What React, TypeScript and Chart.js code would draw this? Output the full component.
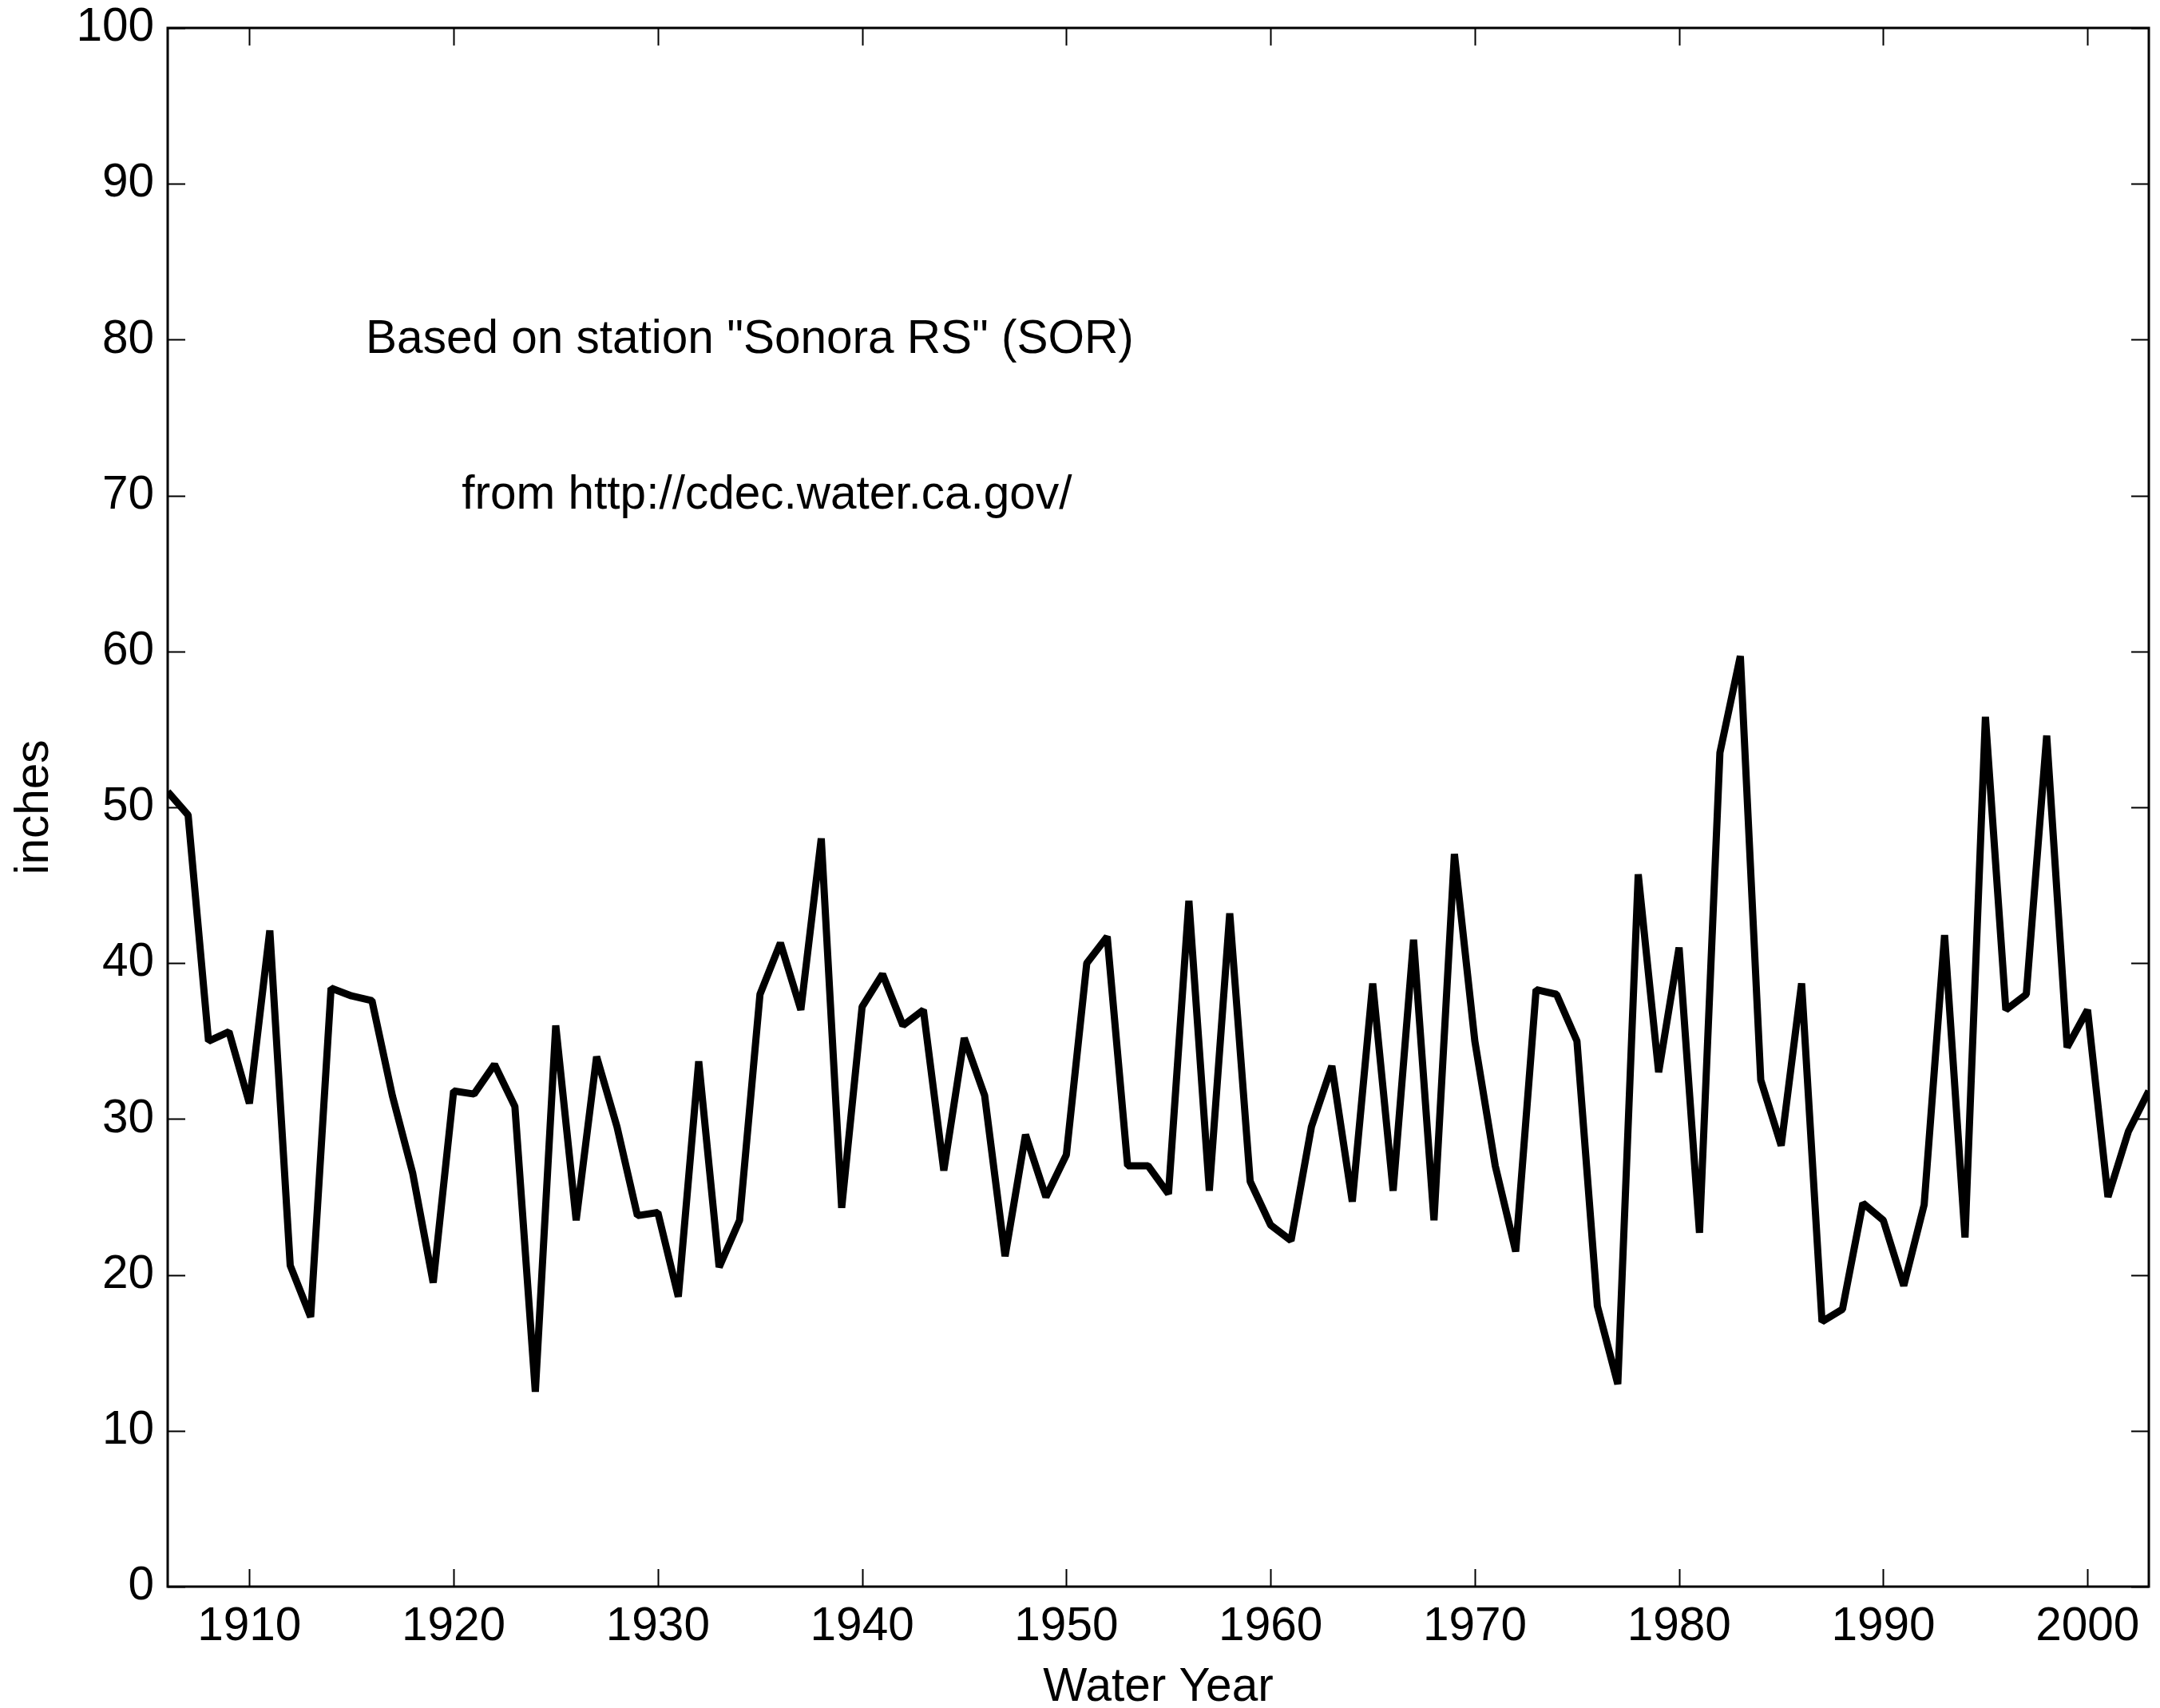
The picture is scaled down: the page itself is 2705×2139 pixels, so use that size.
import React, { useEffect, useRef } from "react";
import { Chart, registerables } from "chart.js";

Chart.register(...registerables);

const waterYears = [
  1906, 1907, 1908, 1909, 1910, 1911, 1912, 1913, 1914, 1915,
  1916, 1917, 1918, 1919, 1920, 1921, 1922, 1923, 1924, 1925,
  1926, 1927, 1928, 1929, 1930, 1931, 1932, 1933, 1934, 1935,
  1936, 1937, 1938, 1939, 1940, 1941, 1942, 1943, 1944, 1945,
  1946, 1947, 1948, 1949, 1950, 1951, 1952, 1953, 1954, 1955,
  1956, 1957, 1958, 1959, 1960, 1961, 1962, 1963, 1964, 1965,
  1966, 1967, 1968, 1969, 1970, 1971, 1972, 1973, 1974, 1975,
  1976, 1977, 1978, 1979, 1980, 1981, 1982, 1983, 1984, 1985,
  1986, 1987, 1988, 1989, 1990, 1991, 1992, 1993, 1994, 1995,
  1996, 1997, 1998, 1999, 2000, 2001, 2002, 2003,
];

const precipInches = [
  51.0, 49.5, 35.0, 35.6, 31.0, 42.1, 20.6, 17.3, 38.4, 37.9,
  37.6, 31.5, 26.5, 19.5, 31.8, 31.6, 33.5, 30.8, 12.5, 36.0,
  23.5, 34.0, 29.5, 23.8, 24.0, 18.6, 33.7, 20.5, 23.5, 38.0,
  41.3, 37.0, 48.0, 24.3, 37.2, 39.3, 36.0, 37.0, 26.7, 35.2,
  31.5, 21.2, 29.0, 25.0, 27.7, 40.0, 41.7, 27.0, 27.0, 25.2,
  44.0, 25.4, 43.2, 26.0, 23.2, 22.2, 29.5, 33.4, 24.7, 38.7,
  25.4, 41.5, 23.5, 47.0, 35.0, 27.0, 21.5, 38.3, 38.0, 35.0,
  18.0, 13.0, 45.7, 33.0, 41.0, 22.7, 53.5, 59.7, 32.5, 28.3,
  38.7, 17.0, 17.8, 24.6, 23.5, 19.3, 24.5, 41.8, 22.4, 55.8,
  37.0, 38.0, 54.6, 34.6, 37.0, 25.0, 29.2, 31.8,
];

const xTickYears = [1910, 1920, 1930, 1940, 1950, 1960, 1970, 1980, 1990, 2000];
const yTickValues = [0, 10, 20, 30, 40, 50, 60, 70, 80, 90, 100];

const noteTexts = ['Based on station "Sonora RS" (SOR)', "from http://cdec.water.ca.gov/"];
const noteX = [1915.7, 1920.4];
const noteY = [80, 70];

const FONT = '"Liberation Sans", Arial, Helvetica, sans-serif';
const FONT_SIZE = 58.5;

const frameTicksPlugin = {
  id: "frameTicks",
  beforeDatasetsDraw(chart: any) {
    const { ctx, chartArea, scales } = chart;
    const { left, right, top, bottom } = chartArea;
    const x = scales.x;
    const y = scales.y;
    const L = 22;
    ctx.save();
    ctx.strokeStyle = "#000";
    ctx.lineWidth = 2;
    ctx.beginPath();
    xTickYears.forEach((v) => {
      const px = Math.round(x.getPixelForValue(v)) + 0.5;
      ctx.moveTo(px, bottom);
      ctx.lineTo(px, bottom - L);
      ctx.moveTo(px, top);
      ctx.lineTo(px, top + L);
    });
    yTickValues.forEach((v) => {
      const py = Math.round(y.getPixelForValue(v)) + 0.5;
      ctx.moveTo(left, py);
      ctx.lineTo(left + L, py);
      ctx.moveTo(right, py);
      ctx.lineTo(right - L, py);
    });
    ctx.stroke();

    ctx.fillStyle = "#000";
    ctx.font = `${FONT_SIZE}px ${FONT}`;
    ctx.textAlign = "left";
    ctx.textBaseline = "middle";
    noteTexts.forEach((t, i) => {
      ctx.fillText(t, x.getPixelForValue(noteX[i]), y.getPixelForValue(noteY[i]));
    });
    ctx.restore();
  },
  afterDatasetsDraw(chart: any) {
    const { ctx, chartArea } = chart;
    const { left, right, top, bottom } = chartArea;
    ctx.save();
    ctx.strokeStyle = "#000";
    ctx.lineWidth = 3;
    ctx.strokeRect(left, top, right - left, bottom - top);
    ctx.restore();
  },
};

export default function App() {
  const canvasRef = useRef<HTMLCanvasElement | null>(null);

  useEffect(() => {
    if (!canvasRef.current) return;
    const chart = new Chart(canvasRef.current, {
      type: "line",
      data: {
        datasets: [
          {
            data: waterYears.map((yr, i) => ({ x: yr, y: precipInches[i] })),
            borderColor: "#000",
            borderWidth: 9,
            pointRadius: 0,
            tension: 0,
            fill: false,
            borderJoinStyle: "bevel",
          },
        ],
      },
      plugins: [frameTicksPlugin],
      options: {
        animation: false,
        responsive: true,
        maintainAspectRatio: false,
        devicePixelRatio: 1,
        layout: { padding: { top: 35, right: 14, left: 0, bottom: 0 } },
        plugins: {
          legend: { display: false },
          tooltip: { enabled: false },
          title: { display: false },
        },
        scales: {
          x: {
            type: "linear",
            min: 1906,
            max: 2003,
            afterBuildTicks: (scale: any) => {
              scale.ticks = xTickYears.map((v) => ({ value: v }));
            },
            afterFit: (scale: any) => {
              scale.height = 152;
            },
            grid: { display: false, drawTicks: false },
            border: { display: false },
            ticks: {
              color: "#000",
              font: { family: FONT, size: FONT_SIZE },
              padding: 16,
              maxRotation: 0,
              autoSkip: false,
              callback: (v: any) => String(v),
            },
            title: {
              display: true,
              text: "Water Year",
              color: "#000",
              font: { family: FONT, size: FONT_SIZE, lineHeight: 0.85 },
              padding: { top: 0, bottom: 0 },
            },
          },
          y: {
            type: "linear",
            min: 0,
            max: 100,
            afterBuildTicks: (scale: any) => {
              scale.ticks = yTickValues.map((v) => ({ value: v }));
            },
            afterFit: (scale: any) => {
              scale.width = 210;
              scale.paddingTop = 0;
              scale.paddingBottom = 0;
            },
            grid: { display: false, drawTicks: false },
            border: { display: false },
            ticks: {
              color: "#000",
              font: { family: FONT, size: FONT_SIZE, lineHeight: 0.4 },
              padding: 17,
              autoSkip: false,
              callback: (v: any) => String(v),
            },
            title: {
              display: true,
              text: "inches",
              color: "#000",
              font: { family: FONT, size: FONT_SIZE, lineHeight: 1.1 },
              padding: { top: 12, bottom: 0 },
            },
          },
        },
      },
    });
    return () => chart.destroy();
  }, []);

  return (
    <div
      style={{
        position: "absolute",
        left: 0,
        top: 0,
        width: "2705px",
        height: "2139px",
        background: "#fff",
      }}
    >
      <canvas ref={canvasRef} />
    </div>
  );
}
